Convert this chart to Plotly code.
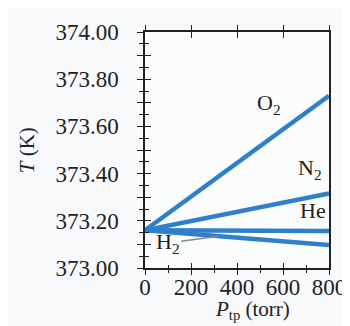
import numpy as np
import plotly.graph_objects as go

# ---- data ----
P_torr = [0, 800]
T_O2 = [373.160, 373.730]
T_N2 = [373.160, 373.316]
T_He = [373.160, 373.157]
T_H2 = [373.160, 373.097]

y_tick_vals = [373.0, 373.1, 373.2, 373.3, 373.4, 373.5, 373.6, 373.7, 373.8, 373.9, 374.0]
y_tick_text = ["373.00", "", "373.20", "", "373.40", "", "373.60", "", "373.80", "", "374.00"]
x_tick_vals = [0, 200, 400, 600, 800]

BLUE = "#2f7fcb"
INK = "#222222"
FONT = "Liberation Serif"
TICK_FONT = dict(family=FONT, size=23, color=INK)

fig = go.Figure()
for T in [T_O2, T_N2, T_He, T_H2]:
    fig.add_trace(go.Scatter(x=P_torr, y=T, mode="lines",
                             line=dict(color=BLUE, width=4.5),
                             showlegend=False, hoverinfo="skip"))

X_RANGE = [0, 800]
Y_RANGE = [373.0, 374.0]

common_x = dict(range=X_RANGE, showgrid=False, zeroline=False)
common_y = dict(range=Y_RANGE, showgrid=False, zeroline=False)

fig.update_layout(
    width=350, height=326,
    margin=dict(l=136.5, r=17.5, t=21.7, b=65.5),
    paper_bgcolor="#f8f9fa",
    plot_bgcolor="#fbfcfc",
    font=dict(family=FONT, size=22, color=INK),
    # bottom: outside ticks (no labels)
    xaxis=dict(**common_x, showline=True, mirror=True, linecolor=INK, linewidth=1.5,
               showticklabels=False,
               tickmode="array", tickvals=x_tick_vals, ticks="outside", ticklen=5,
               tickwidth=1.3, tickcolor=INK,
               minor=dict(dtick=100, ticks="outside", ticklen=3, tickwidth=1.3, tickcolor=INK)),
    # bottom: inside ticks + labels
    xaxis2=dict(**common_x, overlaying="x", side="bottom", anchor="y",
                showticklabels=True, tickfont=TICK_FONT, ticklabelstandoff=3,
                tickmode="array", tickvals=x_tick_vals,
                ticks="inside", ticklen=5, tickwidth=1.3, tickcolor=INK,
                minor=dict(dtick=100, ticks="inside", ticklen=3, tickwidth=1.3, tickcolor=INK)),
    xaxis3=dict(**common_x, overlaying="x", side="top", anchor="y",
                showticklabels=False, tickmode="array", tickvals=x_tick_vals,
                ticks="outside", ticklen=6, tickwidth=1.3, tickcolor=INK),
    xaxis4=dict(**common_x, overlaying="x", side="top", anchor="y",
                showticklabels=False, tickmode="array", tickvals=x_tick_vals,
                ticks="inside", ticklen=6, tickwidth=1.3, tickcolor=INK),
    yaxis=dict(**common_y, showline=True, mirror=True, linecolor=INK, linewidth=1.5,
               tickmode="array", tickvals=y_tick_vals, ticktext=y_tick_text,
               ticks="outside", ticklen=6, tickwidth=1.3, tickcolor=INK,
               ticklabelstandoff=14,
               minor=dict(dtick=0.05, tick0=373.0, ticks="outside", ticklen=4, tickwidth=1.3, tickcolor=INK),
               tickfont=TICK_FONT),
    yaxis2=dict(**common_y, overlaying="y", side="left", anchor="x",
                showticklabels=False, tickmode="array", tickvals=y_tick_vals,
                ticks="inside", ticklen=6, tickwidth=1.3, tickcolor=INK,
                minor=dict(dtick=0.05, tick0=373.0, ticks="inside", ticklen=4, tickwidth=1.3, tickcolor=INK)),
)

# invisible traces to activate the overlay axes
for xa, ya in [("x2", "y"), ("x3", "y"), ("x4", "y"), ("x", "y2")]:
    fig.add_trace(go.Scatter(x=[None], y=[None], xaxis=xa, yaxis=ya,
                             showlegend=False, hoverinfo="skip"))

# series labels
label_pos = {
    "O<sub>2</sub>": (478, 373.695),
    "N<sub>2</sub>": (657, 373.42),
    "He": (667, 373.245),
}
for name, (lx, ly) in label_pos.items():
    fig.add_annotation(x=lx, y=ly, text=name, showarrow=False, xanchor="left",
                       yanchor="middle", font=dict(family=FONT, size=22, color=INK))

# H2 label with leader line to the H2 line
px = 320
py = float(np.interp(px, P_torr, T_H2))
fig.add_annotation(x=px, y=py, text="H<sub>2</sub>", showarrow=True, arrowhead=0,
                   arrowwidth=1.5, arrowcolor="#8a8a8a", ax=-51, ay=7,
                   font=dict(family=FONT, size=22, color=INK))

# axis titles
fig.add_annotation(xref="paper", yref="paper", x=0.584, y=-0.113, xanchor="center",
                   yanchor="top", text="<i>P</i><sub>tp</sub> (torr)", showarrow=False,
                   font=dict(family=FONT, size=21, color=INK))
fig.add_annotation(xref="paper", yref="paper", x=-0.64, y=0.5, xanchor="center",
                   yanchor="middle", textangle=-90,
                   text="<i>T</i> (K)", showarrow=False,
                   font=dict(family=FONT, size=21, color=INK))

fig.write_html("out.html")
